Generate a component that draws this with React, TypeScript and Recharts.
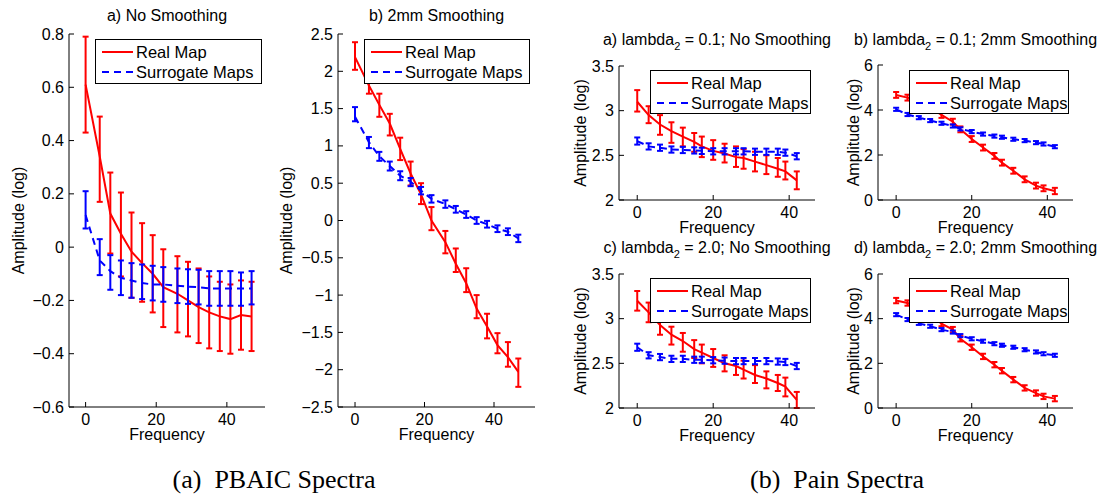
import React from "react";
import { LineChart, Line, XAxis, YAxis, ErrorBar } from "recharts";

const FONT = "'Liberation Sans', Arial, sans-serif";
const SERIF = "'Liberation Serif', 'Times New Roman', serif";
const RED = "#ff0000";
const BLUE = "#0000ff";
const DASH = "7 5";

// frequency bins
const pbaicFreq = [0, 4, 7, 10, 13, 16, 19, 22, 26, 29, 32, 35, 38, 41, 44, 47];
const painFreq = [0, 3, 6, 9, 12, 15, 17, 20, 23, 26, 28, 31, 34, 37, 39, 42];

// PBAIC a) no smoothing
const pbaicRawReal = [0.61, 0.34, 0.126, 0.05, -0.017, -0.06, -0.1, -0.15, -0.175, -0.2, -0.225, -0.245, -0.26, -0.27, -0.255, -0.26];
const pbaicRawRealLo = [0.43, 0.17, -0.024, -0.11, -0.19, -0.205, -0.245, -0.3, -0.32, -0.335, -0.36, -0.38, -0.39, -0.4, -0.385, -0.39];
const pbaicRawRealHi = [0.79, 0.49, 0.28, 0.205, 0.13, 0.09, 0.045, -0.008, -0.034, -0.055, -0.08, -0.11, -0.13, -0.14, -0.125, -0.13];
const pbaicRawSur = [0.12, -0.05, -0.09, -0.115, -0.125, -0.135, -0.14, -0.14, -0.145, -0.148, -0.15, -0.155, -0.155, -0.155, -0.155, -0.155];
const pbaicRawSurLo = [0.07, -0.105, -0.16, -0.18, -0.19, -0.195, -0.2, -0.205, -0.21, -0.213, -0.215, -0.22, -0.22, -0.22, -0.22, -0.215];
const pbaicRawSurHi = [0.21, 0.03, -0.03, -0.05, -0.06, -0.065, -0.07, -0.075, -0.08, -0.083, -0.085, -0.09, -0.09, -0.09, -0.095, -0.09];

// PBAIC b) 2mm smoothing
const pbaicSmReal = [2.19, 1.81, 1.55, 1.3, 0.96, 0.63, 0.35, 0.0, -0.29, -0.58, -0.84, -1.18, -1.42, -1.67, -1.83, -2.03];
const pbaicSmRealLo = [2.02, 1.7, 1.39, 1.14, 0.81, 0.47, 0.22, -0.13, -0.44, -0.69, -0.96, -1.31, -1.58, -1.78, -1.96, -2.23];
const pbaicSmRealHi = [2.39, 1.98, 1.7, 1.43, 1.11, 0.79, 0.5, 0.18, -0.14, -0.375, -0.64, -1.0, -1.25, -1.51, -1.63, -1.85];
const pbaicSmSur = [1.39, 1.05, 0.86, 0.73, 0.6, 0.52, 0.4, 0.29, 0.22, 0.15, 0.08, 0.0, -0.05, -0.11, -0.15, -0.24];
const pbaicSmSurLo = [1.33, 0.97, 0.8, 0.67, 0.54, 0.46, 0.35, 0.24, 0.17, 0.105, 0.035, -0.045, -0.095, -0.155, -0.195, -0.29];
const pbaicSmSurHi = [1.52, 1.12, 0.92, 0.79, 0.66, 0.57, 0.45, 0.34, 0.27, 0.195, 0.125, 0.045, -0.005, -0.065, -0.105, -0.19];

// Pain a) lambda2 = 0.1, no smoothing
const painARealM = [3.1, 2.95, 2.845, 2.77, 2.71, 2.65, 2.6, 2.55, 2.52, 2.48, 2.47, 2.43, 2.39, 2.35, 2.32, 2.22];
const painARealLo = [2.99, 2.86, 2.73, 2.64, 2.6, 2.54, 2.48, 2.45, 2.42, 2.37, 2.35, 2.32, 2.29, 2.26, 2.23, 2.12];
const painARealHi = [3.23, 3.05, 2.95, 2.87, 2.81, 2.75, 2.71, 2.67, 2.63, 2.6, 2.57, 2.54, 2.5, 2.47, 2.43, 2.32];
const painASurM = [2.66, 2.6, 2.585, 2.565, 2.56, 2.555, 2.55, 2.545, 2.545, 2.545, 2.545, 2.54, 2.54, 2.54, 2.53, 2.49];
const painASurLo = [2.62, 2.565, 2.55, 2.53, 2.525, 2.52, 2.515, 2.51, 2.51, 2.51, 2.51, 2.505, 2.505, 2.505, 2.495, 2.455];
const painASurHi = [2.7, 2.635, 2.62, 2.6, 2.595, 2.59, 2.585, 2.58, 2.58, 2.58, 2.58, 2.575, 2.575, 2.575, 2.565, 2.525];

// Pain b) lambda2 = 0.1, 2mm smoothing
const painBRealM = [4.67, 4.55, 4.38, 4.12, 3.78, 3.48, 3.14, 2.71, 2.33, 1.96, 1.66, 1.3, 0.92, 0.64, 0.52, 0.4];
const painBRealLo = [4.54, 4.42, 4.25, 3.99, 3.65, 3.35, 3.01, 2.58, 2.2, 1.83, 1.53, 1.17, 0.79, 0.51, 0.39, 0.26];
const painBRealHi = [4.8, 4.68, 4.51, 4.25, 3.91, 3.61, 3.27, 2.84, 2.46, 2.09, 1.79, 1.43, 1.05, 0.77, 0.65, 0.54];
const painBSurM = [4.03, 3.8, 3.66, 3.53, 3.41, 3.29, 3.16, 3.04, 2.93, 2.84, 2.79, 2.7, 2.64, 2.55, 2.49, 2.37];
const painBSurLo = [3.96, 3.73, 3.59, 3.46, 3.34, 3.22, 3.09, 2.97, 2.86, 2.77, 2.72, 2.63, 2.57, 2.48, 2.42, 2.3];
const painBSurHi = [4.1, 3.87, 3.73, 3.6, 3.48, 3.36, 3.23, 3.11, 3.0, 2.91, 2.86, 2.77, 2.71, 2.62, 2.56, 2.44];

// Pain c) lambda2 = 2.0, no smoothing
const painCRealM = [3.2, 3.07, 2.93, 2.82, 2.75, 2.66, 2.62, 2.56, 2.5, 2.47, 2.43, 2.37, 2.33, 2.28, 2.24, 2.09];
const painCRealLo = [3.09, 2.96, 2.82, 2.71, 2.63, 2.56, 2.5, 2.46, 2.41, 2.37, 2.33, 2.28, 2.22, 2.19, 2.13, 2.0];
const painCRealHi = [3.31, 3.18, 3.05, 2.91, 2.84, 2.76, 2.71, 2.66, 2.59, 2.56, 2.53, 2.48, 2.41, 2.37, 2.34, 2.18];
const painCSurM = [2.68, 2.59, 2.57, 2.55, 2.55, 2.54, 2.54, 2.535, 2.53, 2.525, 2.525, 2.525, 2.525, 2.52, 2.515, 2.47];
const painCSurLo = [2.64, 2.555, 2.535, 2.515, 2.515, 2.505, 2.505, 2.5, 2.495, 2.49, 2.49, 2.49, 2.49, 2.485, 2.48, 2.435];
const painCSurHi = [2.72, 2.625, 2.605, 2.585, 2.585, 2.575, 2.575, 2.57, 2.565, 2.56, 2.56, 2.56, 2.56, 2.555, 2.55, 2.505];

// Pain d) lambda2 = 2.0, 2mm smoothing
const painDRealM = [4.81, 4.7, 4.5, 4.2, 3.78, 3.51, 3.1, 2.72, 2.31, 1.94, 1.67, 1.27, 0.9, 0.67, 0.52, 0.42];
const painDRealLo = [4.69, 4.58, 4.38, 4.08, 3.66, 3.39, 2.98, 2.6, 2.19, 1.82, 1.55, 1.15, 0.78, 0.55, 0.4, 0.3];
const painDRealHi = [4.93, 4.82, 4.62, 4.32, 3.9, 3.63, 3.22, 2.84, 2.43, 2.06, 1.79, 1.39, 1.02, 0.79, 0.64, 0.54];
const painDSurM = [4.18, 3.96, 3.79, 3.66, 3.51, 3.4, 3.24, 3.1, 2.99, 2.88, 2.81, 2.72, 2.61, 2.51, 2.43, 2.36];
const painDSurLo = [4.11, 3.89, 3.72, 3.59, 3.44, 3.33, 3.17, 3.03, 2.92, 2.81, 2.74, 2.65, 2.54, 2.44, 2.36, 2.29];
const painDSurHi = [4.25, 4.03, 3.86, 3.73, 3.58, 3.47, 3.31, 3.17, 3.06, 2.95, 2.88, 2.79, 2.68, 2.58, 2.5, 2.43];

// tick labels
const freqTicks = [0, 20, 40];
const pbaicRawTicks = [-0.6, -0.4, -0.2, 0, 0.2, 0.4, 0.6, 0.8];
const pbaicSmTicks = [-2.5, -2, -1.5, -1, -0.5, 0, 0.5, 1, 1.5, 2, 2.5];
const painRawTicks = [2, 2.5, 3, 3.5];
const painSmTicks = [0, 2, 4, 6];

const legendLabels = ["Real Map", "Surrogate Maps"];
const captions = ["(a)\u00a0 PBAIC Spectra", "(b)\u00a0 Pain Spectra"];

type Band = { m: number[]; lo: number[]; hi: number[] };

const buildRows = (freq: number[], real: Band, sur: Band) =>
  freq.map((f, i) => ({
    f,
    real: real.m[i],
    realErr: [real.m[i] - real.lo[i], real.hi[i] - real.m[i]],
    sur: sur.m[i],
    surErr: [sur.m[i] - sur.lo[i], sur.hi[i] - sur.m[i]],
  }));

const fmt = (v: number) => (v < 0 ? "\u2212" + String(Math.abs(v)) : String(v));

const YTick = (props: any) => {
  const { x, y, payload } = props;
  return (
    <g>
      <line x1={x + 5} x2={x + 10} y1={y} y2={y} stroke="#000" />
      <text x={x} y={y} dy={5.5} textAnchor="end" fontSize={16} fontFamily={FONT} fill="#000">
        {fmt(payload.value)}
      </text>
    </g>
  );
};

const XTick = (props: any) => {
  const { x, y, payload } = props;
  return (
    <g>
      <line x1={x} x2={x} y1={y} y2={y - 5} stroke="#000" />
      <text x={x} y={y + 18} textAnchor="middle" fontSize={16} fontFamily={FONT} fill="#000">
        {fmt(payload.value)}
      </text>
    </g>
  );
};

const YW = 60;
const MT = 10;
const MR = 10;
const XH = 40;

type PanelSpec = {
  x: number; y: number; w: number; h: number;
  xDomain: [number, number]; yDomain: [number, number]; yTicks: number[];
  freq: number[]; real: Band; sur: Band;
  yLabelX: number;
  title: React.ReactNode; titleY: number;
  legend: [number, number, number, number];
};

const sub2 = (pre: string, post: string) => (
  <>
    <tspan>{pre}</tspan>
    <tspan dy={5} fontSize={11}>2</tspan>
    <tspan dy={-5}>{post}</tspan>
  </>
);

const panels: PanelSpec[] = [
  {
    x: 69, y: 34, w: 196, h: 373, xDomain: [-4.7, 50.8], yDomain: [-0.6, 0.8], yTicks: pbaicRawTicks,
    freq: pbaicFreq,
    real: { m: pbaicRawReal, lo: pbaicRawRealLo, hi: pbaicRawRealHi },
    sur: { m: pbaicRawSur, lo: pbaicRawSurLo, hi: pbaicRawSurHi },
    yLabelX: 24, title: "a) No Smoothing", titleY: 21, legend: [95, 39, 166, 44],
  },
  {
    x: 338, y: 34, w: 197, h: 373, xDomain: [-4.9, 51.8], yDomain: [-2.5, 2.5], yTicks: pbaicSmTicks,
    freq: pbaicFreq,
    real: { m: pbaicSmReal, lo: pbaicSmRealLo, hi: pbaicSmRealHi },
    sur: { m: pbaicSmSur, lo: pbaicSmSurLo, hi: pbaicSmSurHi },
    yLabelX: 292, title: "b) 2mm Smoothing", titleY: 21, legend: [364, 39, 165, 44],
  },
  {
    x: 619, y: 66, w: 196, h: 134, xDomain: [-4.8, 46.8], yDomain: [2, 3.5], yTicks: painRawTicks,
    freq: painFreq,
    real: { m: painARealM, lo: painARealLo, hi: painARealHi },
    sur: { m: painASurM, lo: painASurLo, hi: painASurHi },
    yLabelX: 586, title: sub2("a) lambda", " = 0.1; No Smoothing"), titleY: 45, legend: [650, 70, 160, 43],
  },
  {
    x: 878, y: 65, w: 195, h: 135, xDomain: [-4.8, 46.8], yDomain: [0, 6], yTicks: painSmTicks,
    freq: painFreq,
    real: { m: painBRealM, lo: painBRealLo, hi: painBRealHi },
    sur: { m: painBSurM, lo: painBSurLo, hi: painBSurHi },
    yLabelX: 859, title: sub2("b) lambda", " = 0.1; 2mm Smoothing"), titleY: 45, legend: [909, 70, 159, 43],
  },
  {
    x: 619, y: 274, w: 196, h: 134, xDomain: [-4.8, 46.8], yDomain: [2, 3.5], yTicks: painRawTicks,
    freq: painFreq,
    real: { m: painCRealM, lo: painCRealLo, hi: painCRealHi },
    sur: { m: painCSurM, lo: painCSurLo, hi: painCSurHi },
    yLabelX: 586, title: sub2("c) lambda", " = 2.0; No Smoothing"), titleY: 253, legend: [650, 278, 160, 44],
  },
  {
    x: 878, y: 274, w: 195, h: 134, xDomain: [-4.8, 46.8], yDomain: [0, 6], yTicks: painSmTicks,
    freq: painFreq,
    real: { m: painDRealM, lo: painDRealLo, hi: painDRealHi },
    sur: { m: painDSurM, lo: painDSurLo, hi: painDSurHi },
    yLabelX: 859, title: sub2("d) lambda", " = 2.0; 2mm Smoothing"), titleY: 253, legend: [909, 278, 159, 44],
  },
];

const Panel = ({ p }: { p: PanelSpec }) => {
  const rows = buildRows(p.freq, p.real, p.sur);
  return (
    <div style={{ position: "absolute", left: p.x - 8 - YW, top: p.y - 8 - MT }}>
      <LineChart width={YW + p.w + MR} height={MT + p.h + XH} data={rows} margin={{ top: MT, right: MR, bottom: 0, left: 0 }}>
        <XAxis dataKey="f" type="number" domain={p.xDomain} ticks={freqTicks} allowDataOverflow height={XH}
          tickSize={0} tickMargin={0} tickLine={false} tick={(t: any) => <XTick {...t} />} axisLine={{ stroke: "#000" }} />
        <YAxis type="number" domain={p.yDomain} ticks={p.yTicks} allowDataOverflow width={YW}
          tickSize={0} tickMargin={5} tickLine={false} tick={(t: any) => <YTick {...t} />} axisLine={{ stroke: "#000" }} />
        <Line dataKey="real" type="linear" stroke={RED} strokeWidth={2} dot={false} isAnimationActive={false}>
          <ErrorBar dataKey="realErr" direction="y" width={3} stroke={RED} strokeWidth={2} isAnimationActive={false} />
        </Line>
        <Line dataKey="sur" type="linear" stroke={BLUE} strokeWidth={2} strokeDasharray={DASH} dot={false} isAnimationActive={false}>
          <ErrorBar dataKey="surErr" direction="y" width={3} stroke={BLUE} strokeWidth={2} isAnimationActive={false} />
        </Line>
      </LineChart>
    </div>
  );
};

const Overlay = () => (
  <svg width={1108} height={499} style={{ position: "absolute", left: -8, top: -8, pointerEvents: "none", overflow: "visible" }}>
    {panels.map((p, i) => {
      const [lx, ly, lw, lh] = p.legend;
      const cx = p.x + p.w / 2;
      const cy = p.y + p.h / 2;
      return (
        <g key={i} fontFamily={FONT} fill="#000">
          <text x={cx} y={p.titleY} textAnchor="middle" fontSize={16}>{p.title}</text>
          <text x={cx} y={p.y + p.h + 33} textAnchor="middle" fontSize={16}>Frequency</text>
          <text x={p.yLabelX} y={cy} textAnchor="middle" fontSize={16} transform={`rotate(-90 ${p.yLabelX} ${cy})`}>
            Amplitude (log)
          </text>
          <rect x={lx + 0.5} y={ly + 0.5} width={lw} height={lh} fill="#fff" stroke="#000" strokeWidth={1} />
          <line x1={lx + 7} x2={lx + 38} y1={ly + 13} y2={ly + 13} stroke={RED} strokeWidth={2} />
          <line x1={lx + 7} x2={lx + 38} y1={ly + 33} y2={ly + 33} stroke={BLUE} strokeWidth={2} strokeDasharray={DASH} />
          <text x={lx + 41} y={ly + 19} fontSize={16.5}>{legendLabels[0]}</text>
          <text x={lx + 41} y={ly + 39} fontSize={16.5}>{legendLabels[1]}</text>
        </g>
      );
    })}
    <text x={274} y={488} textAnchor="middle" fontSize={26} fontFamily={SERIF} fill="#000">{captions[0]}</text>
    <text x={837} y={488} textAnchor="middle" fontSize={26} fontFamily={SERIF} fill="#000">{captions[1]}</text>
  </svg>
);

export default function App() {
  return (
    <div style={{ position: "relative", width: 1092, height: 491, background: "#fff", fontFamily: FONT }}>
      <style>{"body { margin-bottom: 0; }"}</style>
      {panels.map((p, i) => (
        <Panel key={i} p={p} />
      ))}
      <Overlay />
    </div>
  );
}
